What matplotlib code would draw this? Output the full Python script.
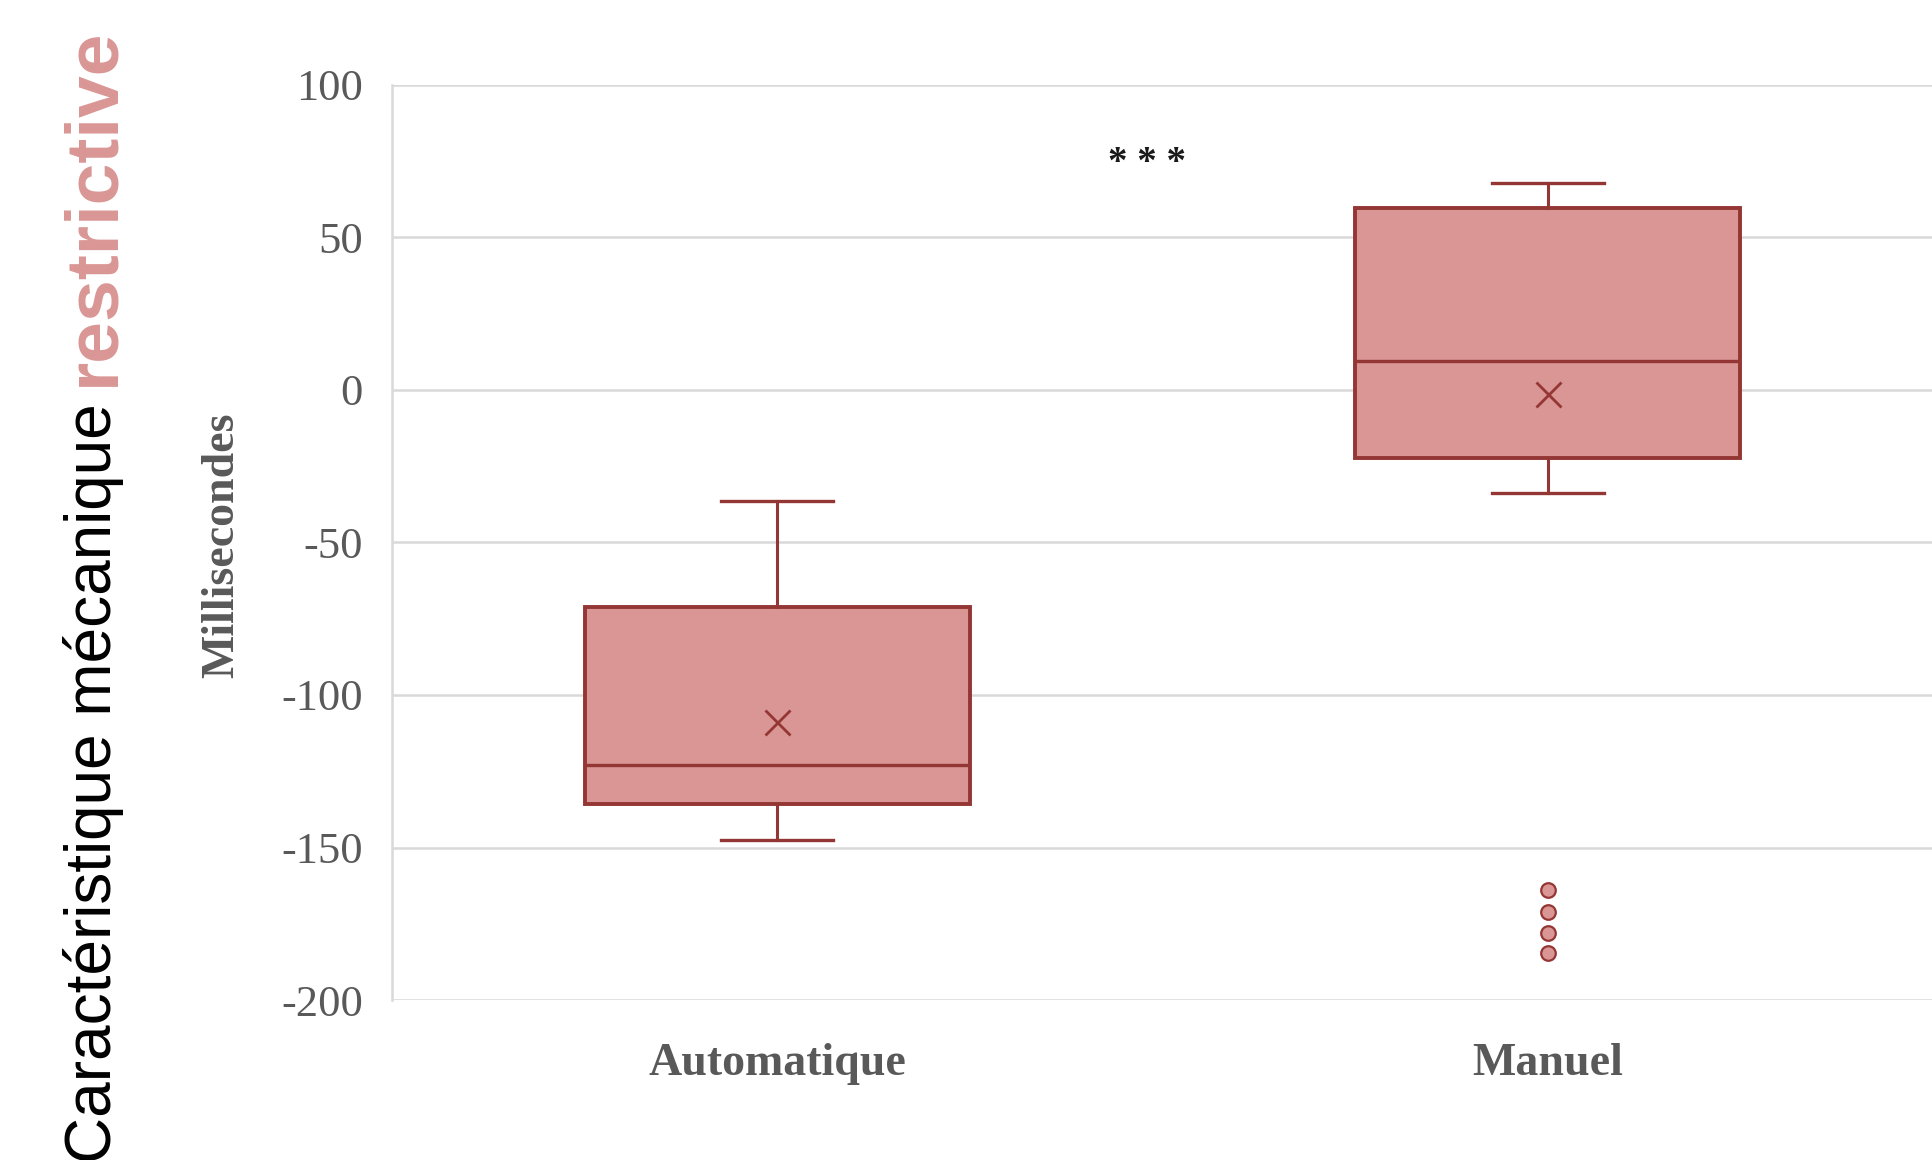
import matplotlib
matplotlib.use("Agg")
import matplotlib.pyplot as plt

# Summary statistics per group (milliseconds)
categories = ["Automatique", "Manuel"]
whisker_low = [-147.4, -33.9]
q1 = [-135.8, -22.3]
medians = [-122.8, 9.5]
q3 = [-71.3, 59.6]
whisker_high = [-36.4, 67.9]
means = [-108.9, -1.4]
outliers = [[], [-164.0, -171.0, -178.0, -184.7]]

y_ticks = [-200, -150, -100, -50, 0, 50, 100]
significance = "* * *"

FILL = "#D99694"
EDGE = "#943634"
GRID = "#D9D9D9"
TEXT_GRAY = "#595959"
SERIF = ["Liberation Serif", "DejaVu Serif"]
SANS = ["Liberation Sans", "DejaVu Sans"]

fig = plt.figure(figsize=(19.33, 11.6), dpi=100)
ax = fig.add_axes([392 / 1933, 1 - 1000 / 1160, 1 - 392 / 1933, (1000 - 85) / 1160])

stats = []
for i, name in enumerate(categories):
    stats.append(dict(label=name, whislo=whisker_low[i], q1=q1[i], med=medians[i],
                      q3=q3[i], whishi=whisker_high[i], mean=means[i],
                      fliers=outliers[i]))

ax.bxp(stats, positions=range(len(categories)), widths=0.5, capwidths=0.146,
       patch_artist=True, showmeans=True, showfliers=True,
       boxprops=dict(facecolor=FILL, edgecolor=EDGE, linewidth=2.8),
       medianprops=dict(color=EDGE, linewidth=2.4),
       whiskerprops=dict(color=EDGE, linewidth=2.2),
       capprops=dict(color=EDGE, linewidth=2.4),
       meanprops=dict(marker="x", markeredgecolor=EDGE, markersize=18,
                      markeredgewidth=2.0),
       flierprops=dict(marker="o", markerfacecolor=FILL, markeredgecolor=EDGE,
                       markersize=10.5, markeredgewidth=1.6, linestyle="none"),
       zorder=3)

ax.set_xlim(-0.5, 1.5)
ax.set_ylim(-200, 100)
ax.set_yticks(y_ticks)
ax.set_yticklabels([str(v) for v in y_ticks])
ax.set_axisbelow(True)
ax.yaxis.grid(True, color=GRID, linewidth=1.8)
ax.xaxis.grid(False)

for side in ("top", "right", "bottom"):
    ax.spines[side].set_visible(False)
ax.spines["left"].set_color(GRID)
ax.spines["left"].set_linewidth(1.8)

ax.tick_params(axis="y", length=0, pad=21, labelsize=32, labelcolor=TEXT_GRAY)
ax.tick_params(axis="x", length=0, pad=31, labelsize=33, labelcolor=TEXT_GRAY)
for lbl in ax.get_yticklabels():
    lbl.set_family(SERIF)
for lbl in ax.get_xticklabels():
    lbl.set_family(SERIF)
    lbl.set_fontweight("bold")

# Significance marker between the groups
ax.annotate(significance, xy=(0.48, 77), xytext=(0, -13), textcoords="offset points",
            ha="center", va="baseline", fontsize=28, fontweight="bold",
            family=SERIF, color="#1A1A1A")

# Axis title
fig.text(222 / 1933, 1 - 545 / 1160, "Millisecondes", rotation=90, ha="center",
         va="center", fontsize=33, fontweight="bold", family=SERIF, color=TEXT_GRAY)

# Side title in two colours
t_pink = fig.text(93.5 / 1933, 1 - 27 / 1160, "restrictive", rotation=90,
                  ha="center", va="top", fontsize=54, fontweight="bold",
                  family=SANS, color=FILL)
ax.annotate("Caractéristique mécanique ", xy=(0.5, 0), xycoords=t_pink,
            rotation=90, ha="center", va="top", fontsize=46, family=SANS,
            color="black", annotation_clip=False)

fig.savefig("out.png", dpi=100)
